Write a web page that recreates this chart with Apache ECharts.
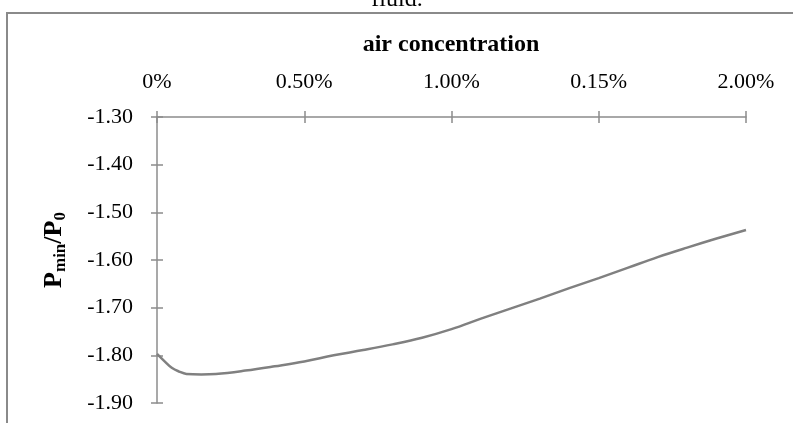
<!DOCTYPE html>
<html><head><meta charset="utf-8">
<script src="https://cdn.jsdelivr.net/npm/echarts@6/dist/echarts.min.js"></script>
<style>html,body{margin:0;padding:0;background:#fff}#c{width:793px;height:423px}</style>
</head><body><div id="c"></div>
<script>
// tick labels of the horizontal axis (as printed in the original, incl. "0.15%")
const xTickLabels = ['0%', '0.50%', '1.00%', '0.15%', '2.00%'];
// air concentration (%)
const airConc = [0, 0.025, 0.05, 0.075, 0.1, 0.15, 0.2, 0.3, 0.4, 0.5, 0.6, 0.7, 0.8, 0.9,
                 1.0, 1.1, 1.2, 1.3, 1.4, 1.5, 1.6, 1.7, 1.8, 1.9, 2.0];
// Pmin/P0
const pRatio = [-1.797, -1.812, -1.826, -1.834, -1.839, -1.840, -1.839, -1.832, -1.823, -1.813,
                -1.800, -1.789, -1.777, -1.763, -1.745, -1.723, -1.702, -1.681, -1.659, -1.638,
                -1.616, -1.594, -1.574, -1.555, -1.537];

const SERIF = '"Liberation Serif", "Times New Roman", serif';
const AX = '#8c8c8c';
const chart = echarts.init(document.getElementById('c'), null, {renderer: 'canvas'});
const baseX = {type: 'value', position: 'top', min: 0, max: 2, interval: 0.5,
  splitLine: {show: false}};
const baseY = {type: 'value', position: 'left', min: -1.9, max: -1.3, interval: 0.1,
  splitLine: {show: false}};
chart.setOption({
  animation: false,
  backgroundColor: '#fff',
  grid: {left: 157, top: 117, right: 47, bottom: 20, containLabel: false},
  xAxis: [
    Object.assign({}, baseX, {
      axisLine: {lineStyle: {color: AX, width: 1.5}},
      axisTick: {length: 6, lineStyle: {color: AX, width: 1.5}},
      axisLabel: {margin: 24, color: '#000', fontFamily: SERIF, fontSize: 22,
        formatter: (v) => xTickLabels[Math.round(v / 0.5)]}
    }),
    Object.assign({}, baseX, {
      axisLine: {show: false},
      axisTick: {inside: true, length: 6, lineStyle: {color: AX, width: 1.5}},
      axisLabel: {show: false}
    })
  ],
  yAxis: [
    Object.assign({}, baseY, {
      axisLine: {onZero: false, lineStyle: {color: AX, width: 1.5}},
      axisTick: {length: 6, lineStyle: {color: AX, width: 1.5}},
      axisLabel: {margin: 24, color: '#000', fontFamily: SERIF, fontSize: 22,
        formatter: (v) => v.toFixed(2)}
    }),
    Object.assign({}, baseY, {
      axisLine: {show: false},
      axisTick: {inside: true, length: 6, lineStyle: {color: AX, width: 1.5}},
      axisLabel: {show: false}
    })
  ],
  series: [{
    type: 'line', xAxisIndex: 0, yAxisIndex: 0, smooth: 0.4, showSymbol: false,
    lineStyle: {color: '#808080', width: 2.5},
    data: airConc.map((x, i) => [x, pRatio[i]])
  }],
  graphic: [
    {type: 'rect', shape: {x: 7, y: 13, width: 900, height: 600},
      style: {fill: 'none', stroke: '#8a8a8a', lineWidth: 2}, silent: true},
    {type: 'text', x: 397, y: 12, style: {text: 'fluid.', font: '24px ' + SERIF,
      textAlign: 'center', textVerticalAlign: 'bottom', fill: '#000'}},
    {type: 'text', x: 451, y: 45, style: {text: 'air concentration', font: 'bold 24px ' + SERIF,
      textAlign: 'center', textVerticalAlign: 'middle', fill: '#000'}},
    {type: 'text', x: 54, y: 250, rotation: Math.PI / 2,
      style: {text: '{p|P}{s|min}{p|/P}{s|0}', textAlign: 'center', textVerticalAlign: 'middle',
        rich: {
          p: {fontFamily: SERIF, fontWeight: 'bold', fontSize: 26, fill: '#000', lineHeight: 30},
          s: {fontFamily: SERIF, fontWeight: 'bold', fontSize: 17, fill: '#000', lineHeight: 30,
              verticalAlign: 'bottom', padding: [10, 0, 0, 0]}
        }}}
  ]
});
</script></body></html>
